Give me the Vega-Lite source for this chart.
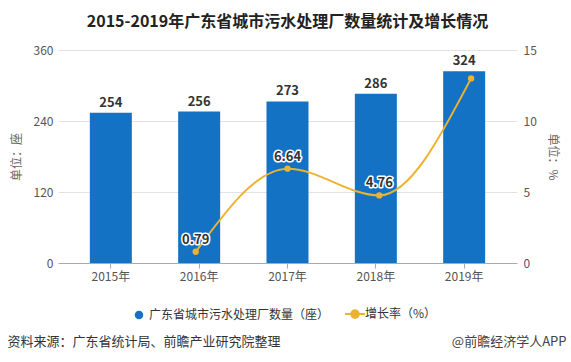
{
  "$schema": "https://vega.github.io/schema/vega-lite/v6.json",
  "width": 459,
  "height": 213,
  "autosize": {"type": "none"},
  "padding": {"left": 58, "top": 50, "right": 54, "bottom": 99},
  "background": "white",
  "config": {
    "font": "Noto Sans CJK SC",
    "view": {"stroke": null},
    "axis": {"labelFont": "Noto Sans CJK SC", "titleFont": "Noto Sans CJK SC"},
    "legend": {"labelFont": "Noto Sans CJK SC"},
    "title": {"font": "Noto Sans CJK SC"}
  },
  "title": {
    "text": "2015-2019年广东省城市污水处理厂数量统计及增长情况",
    "fontSize": 16,
    "fontWeight": "bold",
    "color": "#222222",
    "anchor": "middle",
    "offset": 14
  },
  "datasets": {
    "bars": [
      {"year": "2015年", "count": 254},
      {"year": "2016年", "count": 256},
      {"year": "2017年", "count": 273},
      {"year": "2018年", "count": 286},
      {"year": "2019年", "count": 324}
    ],
    "growth": [
      {"year": "2016年", "rate": 0.79},
      {"year": "2017年", "rate": 6.64},
      {"year": "2018年", "rate": 4.76},
      {"year": "2019年", "rate": 13.0}
    ]
  },
  "layer": [
    {
      "data": {"name": "bars"},
      "encoding": {
        "x": {
          "field": "year",
          "type": "nominal",
          "scale": {"domain": ["2015年", "2016年", "2017年", "2018年", "2019年"], "paddingInner": 0.524, "paddingOuter": 0.36},
          "axis": {
            "title": "资料来源：广东省统计局、前瞻产业研究院整理",
            "titleX": -51,
            "titleY": 78,
            "titleAlign": "left",
            "titleAnchor": "start",
            "titleBaseline": "middle",
            "titleFontSize": 13,
            "titleFontWeight": "normal",
            "titleColor": "#333333",
            "labelAngle": 0,
            "labelFontSize": 12,
            "labelColor": "#555555",
            "labelPadding": 3,
            "domainColor": "#aaaaaa",
            "tickColor": "#aaaaaa",
            "tickSize": 5,
            "grid": false
          }
        },
        "y": {
          "field": "count",
          "type": "quantitative",
          "scale": {"domain": [0, 360], "nice": false},
          "axis": {
            "title": "单位：座",
            "values": [0, 120, 240, 360],
            "grid": true,
            "gridColor": "#e2e2e2",
            "domain": false,
            "ticks": false,
            "labelPadding": 5,
            "labelFontSize": 12,
            "labelColor": "#555555",
            "titleFontSize": 12,
            "titleFontWeight": "normal",
            "titleColor": "#666666",
            "titlePadding": 10
          }
        }
      },
      "layer": [
        {
          "mark": {"type": "bar", "width": 42},
          "encoding": {
            "color": {
              "datum": "广东省城市污水处理厂数量（座）",
              "scale": {
                "domain": ["广东省城市污水处理厂数量（座）", "增长率（%）"],
                "range": ["#1372C4", "#EDB230"]
              },
              "legend": {
                "orient": "none",
                "legendX": 75,
                "legendY": 258,
                "direction": "horizontal",
                "title": null,
                "labelFontSize": 12,
                "labelColor": "#333333",
                "labelOffset": 4,
                "labelLimit": 0,
                "columnPadding": 11,
                "symbolType": "circle",
                "symbolSize": 400,
                "encode": {
                  "symbols": {
                    "update": {
                      "shape": {"signal": "datum.value === '增长率（%）' ? 'M-1,0H1M0.38,0A0.38,0.38 0 1,1 -0.38,0A0.38,0.38 0 1,1 0.38,0Z' : 'circle'"},
                      "size": {"signal": "datum.value === '增长率（%）' ? 400 : 72"},
                      "stroke": {"signal": "datum.value === '增长率（%）' ? '#EDB230' : '#1372C4'"},
                      "strokeWidth": {"signal": "datum.value === '增长率（%）' ? 2 : 0"}
                    }
                  }
                }
              }
            }
          }
        },
        {
          "mark": {"type": "text", "dy": -6, "baseline": "alphabetic", "fontWeight": "bold", "fontSize": 13, "color": "#333333"},
          "encoding": {
            "text": {"field": "count"}
          }
        }
      ]
    },
    {
      "data": {"name": "growth"},
      "encoding": {
        "x": {
          "field": "year",
          "type": "nominal",
          "scale": {"domain": ["2015年", "2016年", "2017年", "2018年", "2019年"], "paddingInner": 0.524, "paddingOuter": 0.36},
          "axis": {
            "orient": "bottom",
            "labels": false,
            "ticks": false,
            "domain": false,
            "grid": false,
            "title": "@前瞻经济学人APP",
            "titleX": 508,
            "titleY": 78,
            "titleAlign": "right",
            "titleAnchor": "end",
            "titleBaseline": "middle",
            "titleFontSize": 13,
            "titleFontWeight": "normal",
            "titleColor": "#444444"
          }
        },
        "y": {
          "field": "rate",
          "type": "quantitative",
          "scale": {"domain": [0, 15], "nice": false},
          "axis": {
            "orient": "right",
            "title": "单位：%",
            "values": [0, 5, 10, 15],
            "grid": false,
            "domain": false,
            "ticks": false,
            "labelPadding": 6,
            "labelFontSize": 12,
            "labelColor": "#555555",
            "titleFontSize": 12,
            "titleFontWeight": "normal",
            "titleColor": "#666666",
            "titlePadding": 9
          }
        }
      },
      "layer": [
        {
          "mark": {"type": "line", "interpolate": "monotone", "strokeWidth": 2},
          "encoding": {"color": {"datum": "增长率（%）"}}
        },
        {
          "mark": {"type": "point", "filled": true, "size": 40, "opacity": 1},
          "encoding": {"color": {"datum": "增长率（%）"}}
        },
        {
          "transform": [{"filter": "datum.year !== '2019年'"}],
          "mark": {"type": "text", "dy": -8, "baseline": "alphabetic", "fontWeight": "bold", "fontSize": 13, "color": "white", "stroke": "white", "strokeWidth": 3, "strokeJoin": "round"},
          "encoding": {"text": {"field": "rate", "format": ".2f"}}
        },
        {
          "transform": [{"filter": "datum.year !== '2019年'"}],
          "mark": {"type": "text", "dy": -8, "baseline": "alphabetic", "fontWeight": "bold", "fontSize": 13, "color": "#333333"},
          "encoding": {"text": {"field": "rate", "format": ".2f"}}
        }
      ]
    }
  ],
  "resolve": {"scale": {"x": "independent", "y": "independent"}}
}
